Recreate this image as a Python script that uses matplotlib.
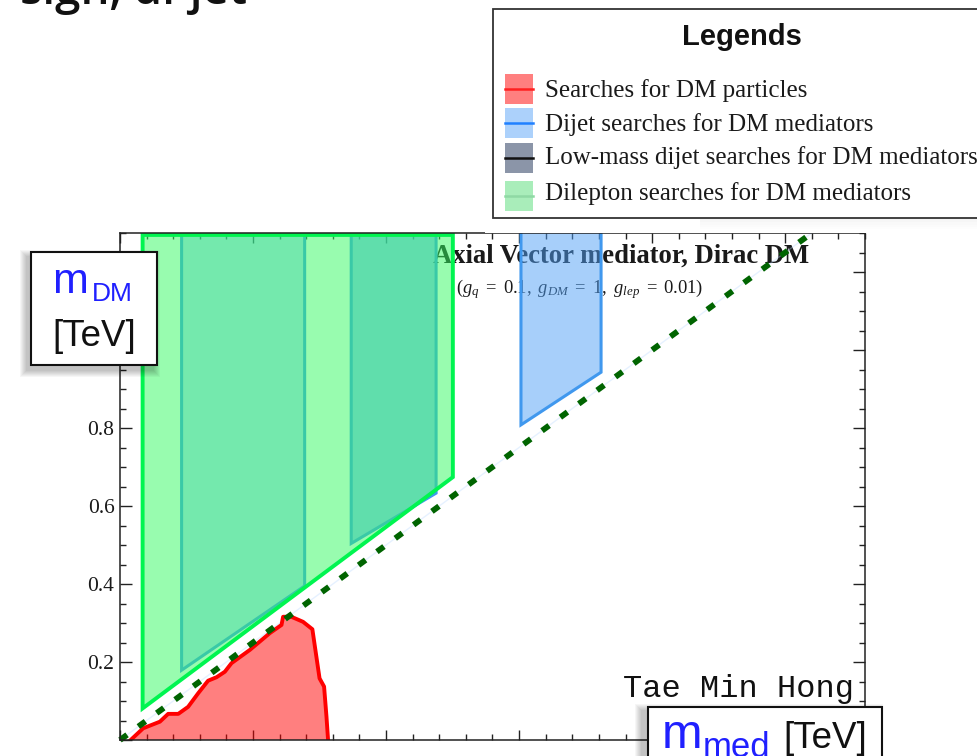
import matplotlib
matplotlib.use("Agg")
import matplotlib.pyplot as plt
from matplotlib.patches import Rectangle
from matplotlib.ticker import MultipleLocator, FixedLocator, FuncFormatter

plt.rcParams["mathtext.fontset"] = "custom"
plt.rcParams["mathtext.rm"] = "Liberation Serif"
plt.rcParams["mathtext.it"] = "Liberation Serif:italic"

# ---- data (m_med, m_DM in TeV) ----
red_mmed = [0.040, 0.087, 0.150, 0.181, 0.219, 0.256, 0.294, 0.331, 0.363, 0.394,
            0.419, 0.488, 0.563, 0.607, 0.613, 0.644, 0.688, 0.723, 0.750, 0.767,
            0.776, 0.782]
red_mdm = [0.000, 0.030, 0.047, 0.067, 0.067, 0.085, 0.120, 0.152, 0.161, 0.175,
           0.197, 0.231, 0.274, 0.295, 0.316, 0.316, 0.303, 0.284, 0.158, 0.137,
           0.060, 0.000]

dilep_mmed = [0.085, 0.085, 1.251, 1.251]
dilep_mdm = [1.295, 0.081, 0.674, 1.295]

dijet_a_mmed = [0.2315, 0.2315, 0.694, 0.694]
dijet_a_mdm = [1.35, 0.179, 0.395, 1.35]
dijet_b_mmed = [0.869, 0.869, 1.188, 1.188]
dijet_b_mdm = [1.35, 0.504, 0.633, 1.35]
dijet_c_mmed = [1.507, 1.507, 1.808, 1.808]
dijet_c_mdm = [1.35, 0.808, 0.943, 1.35]

diag_mmed = [0.0, 2.6]
diag_mdm = [0.0, 1.3]

ytick_vals = [0.0, 0.2, 0.4, 0.6, 0.8, 1.0, 1.2]
ytick_shown = [0.2, 0.4, 0.6, 0.8]

legend_labels = ["Searches for DM particles",
                 "Dijet searches for DM mediators",
                 "Low-mass dijet searches for DM mediators",
                 "Dilepton searches for DM mediators"]
legend_fill = ["#ff7f7f", "#acd1fb", "#8b95a8", "#a9edba"]
legend_line = ["#ff2020", "#2080ff", "#111111", "#8fd9a4"]

W, H = 977, 756
fig = plt.figure(figsize=(W / 100, H / 100), dpi=100)


def fx(x):
    return x / W


def fy(y):
    return 1 - y / H


ax = fig.add_axes([fx(120), fy(740), 745 / W, 507 / H])
ax.set_xlim(0, 2.8)
ax.set_ylim(0, 1.3)

serif = "Liberation Serif"
sans = "Liberation Sans"

# ---- exclusion regions ----
for xs, ys, a in [(dijet_a_mmed, dijet_a_mdm, 0.42),
                  (dijet_b_mmed, dijet_b_mdm, 0.65),
                  (dijet_c_mmed, dijet_c_mdm, 0.5)]:
    ax.fill(xs, ys, facecolor=(81 / 255, 161 / 255, 247 / 255, a),
            edgecolor="#4098ee", lw=2.2, zorder=2)

ax.fill(dilep_mmed, dilep_mdm, facecolor=(51 / 255, 251 / 255, 97 / 255, 0.5),
        edgecolor="none", zorder=3)
ax.fill(dilep_mmed + [dilep_mmed[0]], dilep_mdm + [dilep_mdm[0]],
        facecolor="none", edgecolor="#00f550", lw=2.8, zorder=4, clip_on=False,
        joinstyle="miter")

ax.fill(red_mmed, red_mdm, facecolor=(1, 0, 0, 0.5), edgecolor="none", zorder=3)
ax.plot(red_mmed, red_mdm, color="#ff0000", lw=2.8, zorder=4,
        solid_joinstyle="round")

ax.plot(diag_mmed, diag_mdm, color="#b8d8ff", lw=1.0, alpha=0.35, zorder=3.5)
ax.plot(diag_mmed, diag_mdm, color="#006400", lw=4.2,
        linestyle=(0, (1.5, 2.4)), dash_capstyle="butt", zorder=5,
        clip_on=False)

# ---- axes styling ----
for s in ax.spines.values():
    s.set_linewidth(1.1)
    s.set_color("#222222")
    s.set_zorder(6)

ax.xaxis.set_major_locator(MultipleLocator(0.5))
ax.xaxis.set_minor_locator(MultipleLocator(0.1))
ax.yaxis.set_major_locator(FixedLocator(ytick_vals))
ax.yaxis.set_minor_locator(MultipleLocator(0.05))
ax.yaxis.set_major_formatter(
    FuncFormatter(lambda v, p: f"{v:.1f}" if round(v, 2) in ytick_shown else ""))
ax.tick_params(which="both", direction="in", top=True, right=True,
               labelbottom=False, color="#222222", width=1.0)
ax.tick_params(axis="x", which="major", length=7.5)
ax.tick_params(axis="x", which="minor", length=4.2)
ax.tick_params(axis="y", which="major", length=8.8, pad=4)
ax.tick_params(axis="y", which="minor", length=4.4)
for lab in ax.get_yticklabels():
    lab.set_fontfamily(serif)
    lab.set_fontsize(15.5)
    lab.set_color("#1a1a1a")

# ---- in-plot text (beneath the translucent regions) ----
ax.text(fx(433), fy(263), "Axial Vector mediator, Dirac DM", transform=fig.transFigure,
        fontfamily=serif, fontweight="bold", fontsize=19.2, color="#1a1a1a",
        ha="left", va="baseline", zorder=1)
ax.text(fx(456), fy(293),
        r"$\mathit{(g_q\ =\ 0.1,\ g_{DM}\ =\ 1,\ g_{lep}\ =\ 0.01)}$",
        transform=fig.transFigure, fontsize=13.3, color="#1a1a1a",
        ha="left", va="baseline", zorder=1)
fig.text(fx(623), fy(697), "Tae Min Hong", fontfamily="Liberation Mono",
         fontsize=23, color="#111111", ha="left", va="baseline", zorder=7)


# ---- boxes with soft shadows ----
def soft_shadow(x0, y0, x1, y1, dx, dy, steps=7, alpha=0.035):
    for k in range(steps):
        g = steps - k
        fig.add_artist(Rectangle((fx(x0 + dx - g), fy(y1 + dy + g)),
                                 (x1 - x0 + 2 * g) / W, (y1 - y0 + 2 * g) / H,
                                 transform=fig.transFigure, facecolor="black",
                                 edgecolor="none", alpha=alpha, zorder=8))


def box(x0, y0, x1, y1, lw=1.5, ec="#111111"):
    fig.add_artist(Rectangle((fx(x0), fy(y1)), (x1 - x0) / W, (y1 - y0) / H,
                             transform=fig.transFigure, facecolor="white",
                             edgecolor=ec, lw=lw, zorder=9))


# white strip below the legend panel
fig.add_artist(Rectangle((fx(485), fy(232.5)), (W - 485) / W, 20 / H,
                         transform=fig.transFigure, facecolor="white",
                         edgecolor="none", zorder=8))
for k in range(6):
    fig.add_artist(Rectangle((fx(700), fy(218 + k * 2.2)), (W - 700) / W, 2.2 / H,
                             transform=fig.transFigure, facecolor="black",
                             edgecolor="none", alpha=0.05 * (1 - k / 6), zorder=8))

# legend panel
box(493, 9, 1000, 218, lw=1.3, ec="#333333")
fig.text(fx(742), fy(45), "Legends", fontfamily=sans, fontweight="bold",
         fontsize=21, color="#111111", ha="center", va="baseline", zorder=10)
rows_top = [74, 108, 143, 181]
rows_base = [97, 131, 164, 200]
for lab, fc, lc, t, b in zip(legend_labels, legend_fill, legend_line, rows_top, rows_base):
    fig.add_artist(Rectangle((fx(505), fy(t + 30)), 28 / W, 30 / H,
                             transform=fig.transFigure, facecolor=fc,
                             edgecolor="none", zorder=10))
    fig.add_artist(plt.Line2D([fx(505), fx(533)], [fy(t + 15), fy(t + 15)],
                              transform=fig.transFigure, color=lc, lw=1.8, zorder=11))
    fig.text(fx(545), fy(b), lab, fontfamily=serif, fontsize=18, color="#1a1a1a",
             ha="left", va="baseline", zorder=10)

# y-axis label box
soft_shadow(31, 252, 157, 365, -4, 5)
box(31, 252, 157, 365)
fig.text(fx(52), fy(293), "m", fontfamily=sans, fontsize=31, color="#2020ff",
         ha="left", va="baseline", zorder=10)
fig.text(fx(92), fy(301), "DM", fontfamily=sans, fontsize=19, color="#2020ff",
         ha="left", va="baseline", zorder=10)
fig.text(fx(94), fy(346), "[TeV]", fontfamily=sans, fontsize=26.5, color="#111111",
         ha="center", va="baseline", zorder=10)

# x-axis label box
soft_shadow(648, 707, 882, 800, -6, 4)
box(648, 707, 882, 800)
fig.text(fx(662), fy(748), "m", fontfamily=sans, fontsize=35, color="#2020ff",
         ha="left", va="baseline", zorder=10)
fig.text(fx(703), fy(757), "med", fontfamily=sans, fontsize=25, color="#2020ff",
         ha="left", va="baseline", zorder=10)
fig.text(fx(783), fy(748), "[TeV]", fontfamily=sans, fontsize=26.5, color="#111111",
         ha="left", va="baseline", zorder=10)

# slide heading, cut by the top edge
fig.text(fx(20), fy(4), "sign, di-jet", fontfamily="Open Sans", fontweight="semibold",
         fontsize=33, color="#111111", ha="left", va="baseline", zorder=10)

fig.savefig("out.png", dpi=100)
